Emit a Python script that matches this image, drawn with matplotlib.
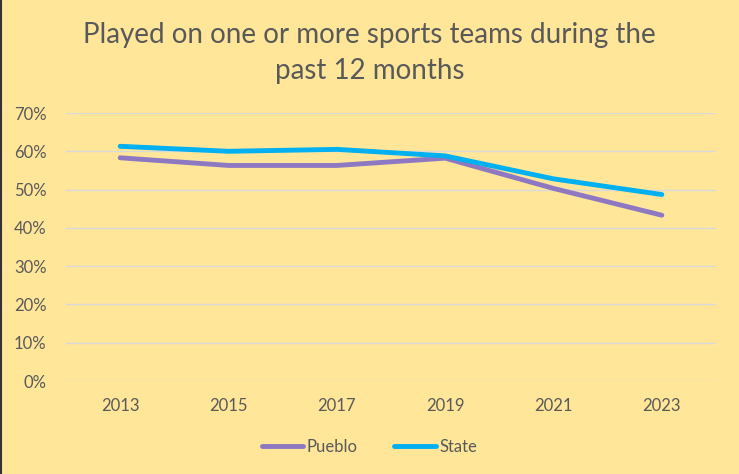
import matplotlib
matplotlib.use("Agg")
import matplotlib.pyplot as plt
from matplotlib.ticker import PercentFormatter
from matplotlib.lines import Line2D

years = ["2013", "2015", "2017", "2019", "2021", "2023"]
pueblo = [0.583, 0.563, 0.563, 0.582, 0.503, 0.433]
state = [0.613, 0.600, 0.605, 0.588, 0.528, 0.487]

bg = "#FFE699"
txt = "#595959"
plt.rcParams['font.family'] = ['Lato', 'DejaVu Sans']

fig = plt.figure(figsize=(7.39, 4.74), dpi=100, facecolor=bg)
ax = fig.add_axes([66/739, 1-381/474, 650/739, 268/474], facecolor=bg)
x = list(range(len(years)))
ax.plot(x, pueblo, color="#8E78C2", lw=3.5, solid_capstyle="round", label="Pueblo")
ax.plot(x, state, color="#00B0F0", lw=3.5, solid_capstyle="round", label="State")
ax.set_xlim(-0.5, len(years)-0.5)
ax.set_ylim(0, 0.7)
ax.set_yticks([i/10 for i in range(8)])
ax.yaxis.set_major_formatter(PercentFormatter(1.0, decimals=0))
ax.set_xticks(x)
ax.set_xticklabels(years)
ax.grid(axis='y', color="#D9D9D9", lw=1)
ax.set_axisbelow(True)
for s in ax.spines.values():
    s.set_visible(False)
ax.tick_params(length=0, colors=txt, labelsize=12)
ax.tick_params(axis='y', pad=14)
ax.tick_params(axis='x', pad=12)
fig.text(0.5, 0.888, "Played on one or more sports teams during the\npast 12 months",
         ha='center', va='center', fontsize=20, color=txt, linespacing=1.45)
leg = fig.legend(loc='center', bbox_to_anchor=(0.5, 0.058), ncol=2, frameon=False,
                 fontsize=12, labelcolor=txt, handlelength=2.5, handletextpad=0.2, columnspacing=2.2)
fig.add_artist(Line2D([0.5/739, 0.5/739], [0, 1], transform=fig.transFigure, color="#333333", lw=1.5))
fig.savefig("out.png", facecolor=bg)
